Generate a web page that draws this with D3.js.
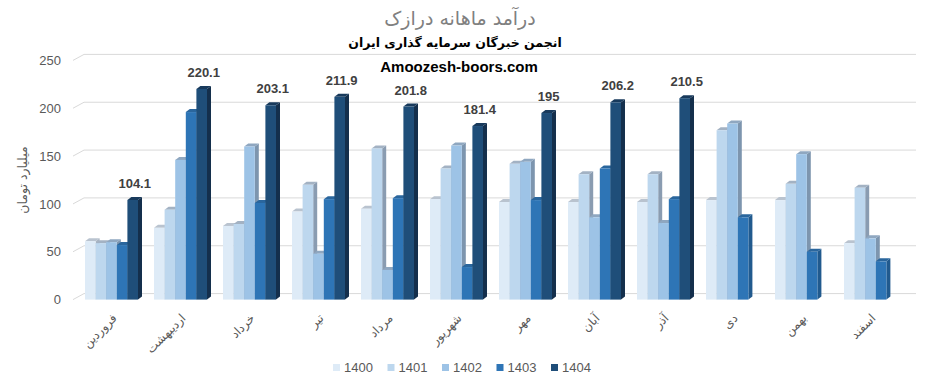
<!DOCTYPE html>
<html>
<head>
<meta charset="utf-8">
<script src="https://cdn.jsdelivr.net/npm/d3@7"></script>
<style>
  body { margin: 0; background: #fff; }
  svg { display: block; }
</style>
</head>
<body>
<div id="chart"></div>
<script>
const months = ["فروردین", "اردیبهشت", "خرداد", "تیر", "مرداد", "شهریور",
                "مهر", "آبان", "آذر", "دی", "بهمن", "اسفند"];
const series = ["1400", "1401", "1402", "1403", "1404"];

const v1400 = [61, 75, 77, 92, 95, 105, 102, 102, 102, 104, 104, 59];
const v1401 = [59, 94, 79, 120, 158, 137, 142, 131, 131, 177, 121, 117];
const v1402 = [60, 146, 160, 48, 31, 161, 144, 86, 80, 184, 152, 64];
const v1403 = [57, 196, 101, 105, 106, 34, 104, 137, 105, 86, 50, 40];
const v1404 = [104.1, 220.1, 203.1, 211.9, 201.8, 181.4, 195, 206.2, 210.5, null, null, null];

const yTicks = [0, 50, 100, 150, 200, 250];

const values = [v1400, v1401, v1402, v1403, v1404];
const fronts = ["#deebf7", "#bdd7ee", "#9dc3e6", "#2e75b6", "#1f4e79"];
const sides  = ["#a9b5c3", "#8a9cb1", "#7d95ae", "#215a8e", "#142f4c"];
const tops   = ["#b9c3cf", "#a3b2c3", "#8fa7c0", "#2a669d", "#183a5c"];

const W = 942, H = 387;
const dx = 4, dy = 3;        // bar depth
const bx = 11, by = 6;       // back wall offset

const svg = d3.select("#chart").append("svg")
    .attr("width", W)
    .attr("height", H);

const x = d3.scaleBand().domain(months).range([69, 913]).paddingInner(0.232).paddingOuter(0.232);
const xs = d3.scaleBand().domain(series).range([0, x.bandwidth()]);
const y = d3.scaleLinear().domain([0, 250]).range([299.6, 60.4]);

// titles
svg.append("text")
    .attr("x", 460).attr("y", 25)
    .attr("text-anchor", "middle")
    .style("font-family", "DejaVu Sans, sans-serif")
    .style("font-size", "19px")
    .style("fill", "#808080")
    .text("درآمد ماهانه درازک");

svg.append("text")
    .attr("x", 455).attr("y", 47)
    .attr("text-anchor", "middle")
    .style("font-family", "DejaVu Sans, sans-serif")
    .style("font-size", "12.5px")
    .style("font-weight", "bold")
    .style("fill", "#000")
    .text("انجمن خبرگان سرمایه گذاری ایران");

svg.append("text")
    .attr("x", 459).attr("y", 72)
    .attr("text-anchor", "middle")
    .style("font-family", "Liberation Sans, Arial, sans-serif")
    .style("font-size", "15px")
    .style("font-weight", "bold")
    .style("fill", "#000")
    .text("Amoozesh-boors.com");

// gridlines on the back wall, with the slant of the side wall
const grid = svg.append("g").attr("class", "grid");
yTicks.forEach(t => {
    grid.append("path")
        .attr("d", `M73,${y(t)} L${73 + bx},${y(t) - by} L916,${y(t) - by}`)
        .attr("fill", "none")
        .attr("stroke", "#d9d9d9")
        .attr("stroke-width", 1);
});

// y axis labels
const yAxis = svg.append("g")
    .attr("transform", "translate(73,0)")
    .call(d3.axisLeft(y).tickValues(yTicks).tickSize(0).tickPadding(12));
yAxis.select(".domain").remove();
yAxis.selectAll("text")
    .style("font-family", "Liberation Sans, Arial, sans-serif")
    .style("font-size", "13px")
    .style("fill", "#595959");

svg.append("text")
    .attr("transform", "translate(27,180) rotate(-90)")
    .attr("text-anchor", "middle")
    .style("font-family", "DejaVu Sans, sans-serif")
    .style("font-size", "12.5px")
    .style("fill", "#595959")
    .text("میلیارد تومان");

// bars
const bars = [];
months.forEach((m, i) => {
    series.forEach((s, j) => {
        const v = values[j][i];
        if (v == null) return;
        bars.push({ m, s, j, v });
    });
});

const barG = svg.append("g").attr("class", "bars");
const bw = xs.bandwidth();
bars.forEach(d => {
    const x0 = x(d.m) + xs(d.s);
    const y0 = y(d.v), yb = y(0);
    const g = barG.append("g");
    // side
    g.append("path")
        .attr("d", `M${x0 + bw},${y0} L${x0 + bw + dx},${y0 - dy} L${x0 + bw + dx},${yb - dy} L${x0 + bw},${yb} Z`)
        .attr("fill", sides[d.j]);
    // top
    g.append("path")
        .attr("d", `M${x0},${y0} L${x0 + dx},${y0 - dy} L${x0 + bw + dx},${y0 - dy} L${x0 + bw},${y0} Z`)
        .attr("fill", tops[d.j]);
    // front
    g.append("rect")
        .attr("x", x0).attr("y", y0)
        .attr("width", bw).attr("height", yb - y0)
        .attr("fill", fronts[d.j]);
});

// data labels on 1404
const lab = svg.append("g").attr("class", "labels");
months.forEach((m, i) => {
    const v = v1404[i];
    if (v == null) return;
    lab.append("text")
        .attr("x", x(m) + xs("1404") + bw / 2 + 2)
        .attr("y", y(v) - 12)
        .attr("text-anchor", "middle")
        .style("font-family", "Liberation Sans, Arial, sans-serif")
        .style("font-size", "13px")
        .style("font-weight", "bold")
        .style("fill", "#404040")
        .text(String(v));
});

// x labels, rotated
svg.append("g").attr("class", "xlabels")
    .selectAll("text")
    .data(months)
    .enter().append("text")
    .attr("transform", d => `translate(${x(d) + x.bandwidth() / 2 + 3},316) rotate(-45)`)
    .attr("text-anchor", "end")
    .attr("dy", "0.35em")
    .style("font-family", "DejaVu Sans, sans-serif")
    .style("font-size", "12px")
    .style("fill", "#595959")
    .text(d => d);

// legend
const legend = svg.append("g").attr("class", "legend");
series.forEach((s, j) => {
    const lx = 333 + j * 54.5;
    legend.append("rect")
        .attr("x", lx).attr("y", 364)
        .attr("width", 7).attr("height", 7)
        .attr("fill", fronts[j]);
    legend.append("text")
        .attr("x", lx + 11).attr("y", 367.5)
        .attr("dy", "0.35em")
        .style("font-family", "Liberation Sans, Arial, sans-serif")
        .style("font-size", "13px")
        .style("fill", "#595959")
        .text(s);
});
</script>
</body>
</html>
